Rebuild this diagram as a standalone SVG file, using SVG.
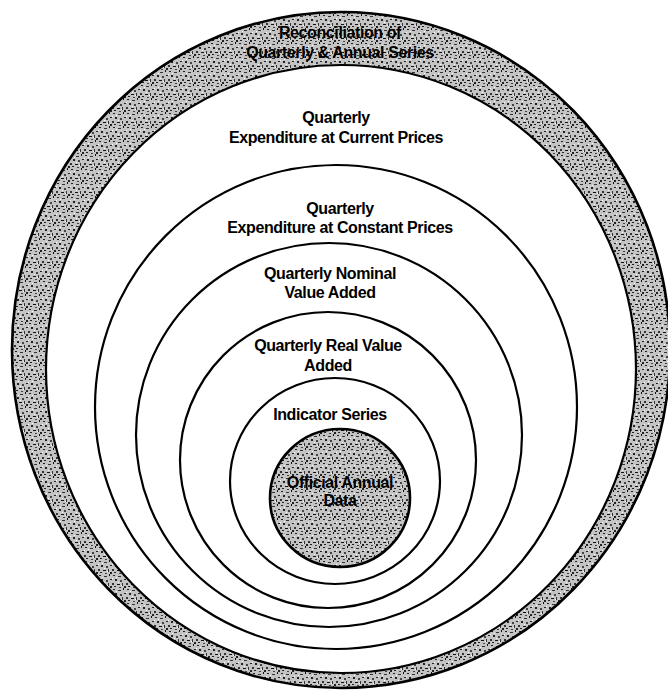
<svg xmlns="http://www.w3.org/2000/svg" width="668" height="692" viewBox="0 0 668 692">
<defs>
<pattern id="speck" width="14" height="14" patternUnits="userSpaceOnUse">
<rect width="14" height="14" fill="#c4c4c4"/>
<rect x="1" y="1" width="2" height="1" fill="#222"/>
<rect x="6" y="2" width="3" height="1" fill="#333"/>
<rect x="11" y="0" width="1" height="2" fill="#111"/>
<rect x="3" y="5" width="2" height="2" fill="#222"/>
<rect x="8" y="6" width="2" height="2" fill="#444"/>
<rect x="12" y="5" width="2" height="1" fill="#222"/>
<rect x="0" y="9" width="2" height="2" fill="#333"/>
<rect x="5" y="10" width="3" height="1" fill="#111"/>
<rect x="10" y="9" width="1" height="3" fill="#333"/>
<rect x="2" y="12" width="2" height="1" fill="#222"/>
<rect x="7" y="13" width="2" height="1" fill="#444"/>
<rect x="12" y="12" width="2" height="2" fill="#222"/>
<rect x="4" y="3" width="1" height="1" fill="#fff"/>
<rect x="9" y="11" width="1" height="1" fill="#fff"/>
<rect x="0" y="4" width="1" height="1" fill="#fff"/>
<rect x="6" y="8" width="1" height="1" fill="#fff"/>
</pattern>
</defs>
<style>
.ring{fill:#fff;stroke:#000;stroke-width:2.2}
.shade{fill:url(#speck);stroke:#000;stroke-width:2.6}
text{font-family:"Liberation Sans",Arial,sans-serif;font-weight:bold;font-size:16px;letter-spacing:-0.4px;fill:#000;text-anchor:middle}
</style>
<rect width="668" height="692" fill="#fff"/>
<g id="connectors"/>
<g id="reconciliation">
<ellipse class="shade" cx="341" cy="350" rx="329" ry="338"/>
<text x="340" y="38">Reconciliation of</text>
<text x="340" y="58">Quarterly &amp; Annual Series</text>
</g>
<g id="expenditure-current">
<ellipse class="ring" cx="341" cy="369" rx="295" ry="304"/>
<text x="336" y="123">Quarterly</text>
<text x="336" y="143">Expenditure at Current Prices</text>
</g>
<g id="expenditure-constant">
<ellipse class="ring" cx="336" cy="407" rx="241" ry="242"/>
<text x="340" y="214">Quarterly</text>
<text x="340" y="233">Expenditure at Constant Prices</text>
</g>
<g id="nominal-value-added">
<ellipse class="ring" cx="329" cy="435" rx="193" ry="192"/>
<text x="330" y="279">Quarterly Nominal</text>
<text x="330" y="298">Value Added</text>
</g>
<g id="real-value-added">
<ellipse class="ring" cx="328" cy="460" rx="148" ry="148"/>
<text x="328" y="351">Quarterly Real Value</text>
<text x="328" y="371">Added</text>
</g>
<g id="indicator-series">
<ellipse class="ring" cx="335" cy="481" rx="105" ry="103"/>
<text x="330" y="420">Indicator Series</text>
</g>
<g id="official-annual-data">
<ellipse class="shade" cx="340" cy="498" rx="70" ry="69"/>
<text x="340" y="488">Official Annual</text>
<text x="340" y="506">Data</text>
</g>
</svg>
